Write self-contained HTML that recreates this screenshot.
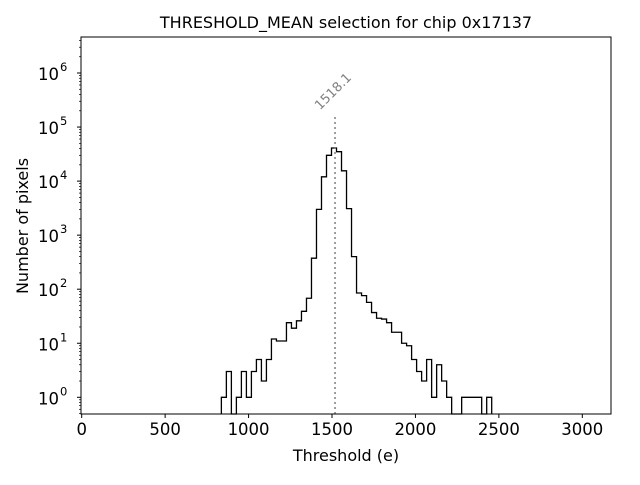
<!DOCTYPE html>
<html><head><meta charset="utf-8"><style>
body{margin:0;background:#fff;}
svg text{font-family:"DejaVu Sans","Liberation Sans",sans-serif;}
</style></head><body>
<svg id="chart" width="640" height="480" xmlns="http://www.w3.org/2000/svg">
<text x="346" y="28" font-size="16" text-anchor="middle">THRESHOLD_MEAN selection for chip 0x17137</text>
<text x="346" y="461" font-size="16" text-anchor="middle">Threshold (e)</text>
<text transform="translate(28,226) rotate(-90)" font-size="16" text-anchor="middle">Number of pixels</text>
<g id="ticks"></g>
<g id="marks"></g>
<rect x="81" y="37" width="530" height="377" fill="none" stroke="#000" stroke-width="1"/>
</svg>
<script>
const binStart = 837;
const binWidth = 30;
const counts = [1,3,0,1,3,1,3,5,2,5,12,11,11,24,19,26,39,68,375,3000,12000,30000,41000,35000,15500,3100,400,85,76,57,37,29,28,24,16,16,10,9,5,3,2,5,1,4,2,1,0,0,1,1,1,1,0,1];
const selectedThreshold = 1518.1;
const xTicks = [0,500,1000,1500,2000,2500,3000];
const yTickExps = [0,1,2,3,4,5,6];

const NS="http://www.w3.org/2000/svg";
const L=81,R=611,T=37,B=414;
function xs(v){return 81.7+v*0.16687;}
function ys(v){return 397.3-Math.log10(v)*54.05;}
function mk(tag,attrs,parent){const e=document.createElementNS(NS,tag);for(const k in attrs)e.setAttribute(k,attrs[k]);parent.appendChild(e);return e;}
const tk=document.getElementById('ticks'), mg=document.getElementById('marks');

xTicks.forEach(v=>{
  const x=xs(v);
  const l=mk('line',{x1:x,x2:x,y1:B,y2:B+4,stroke:'#000'},tk);
  
  
  const t=mk('text',{x:x,y:B+21,'font-size':16.5,'text-anchor':'middle'},tk);
  
  
  t.textContent=v;
});
yTickExps.forEach(e=>{
  const y=ys(Math.pow(10,e));
  const l=mk('line',{x1:L-4,x2:L,y1:y,y2:y,stroke:'#000'},tk);
  
  
  const t=mk('text',{x:L-22,y:y+7,'font-size':16.5,'text-anchor':'end'},tk);
  
  
  t.textContent='10';
  const s=mk('text',{x:L-21,y:y-2,'font-size':11.5,'text-anchor':'start'},tk);
  
  
  s.textContent=e;
});
for(let e=-1;e<=6;e++){for(let m=2;m<=9;m++){const v=m*Math.pow(10,e);const y=ys(v);if(y<T||y>B)continue;
  const l=mk('line',{x1:L-2,x2:L,y1:y,y2:y,stroke:'#000','stroke-width':0.7},tk);
  
  }}

let d='';
counts.forEach((c,i)=>{
  const x0=xs(binStart+i*binWidth), x1=xs(binStart+(i+1)*binWidth);
  const y=c>0?ys(c):B;
  if(i===0)d+=`M${x0},${B}`;
  d+=`L${x0},${y}L${x1},${y}`;
});
d+=`L${xs(binStart+counts.length*binWidth)},${B}`;
const p=mk('path',{d:d,fill:'none',stroke:'#000','stroke-width':1.3},mg);



const maxC=Math.max(...counts);
const sx=xs(selectedThreshold), topY=ys(maxC*4);
const vl=mk('line',{x1:sx,x2:sx,y1:B,y2:topY,stroke:'#808080','stroke-width':1.5,'stroke-dasharray':'2,3'},mg);


const lt=mk('text',{x:0,y:0,'font-size':13,fill:'#808080','text-anchor':'middle',transform:`translate(${sx+1},${topY-21}) rotate(-45)`},mg);


lt.textContent=selectedThreshold.toFixed(1);
</script>
</body></html>
